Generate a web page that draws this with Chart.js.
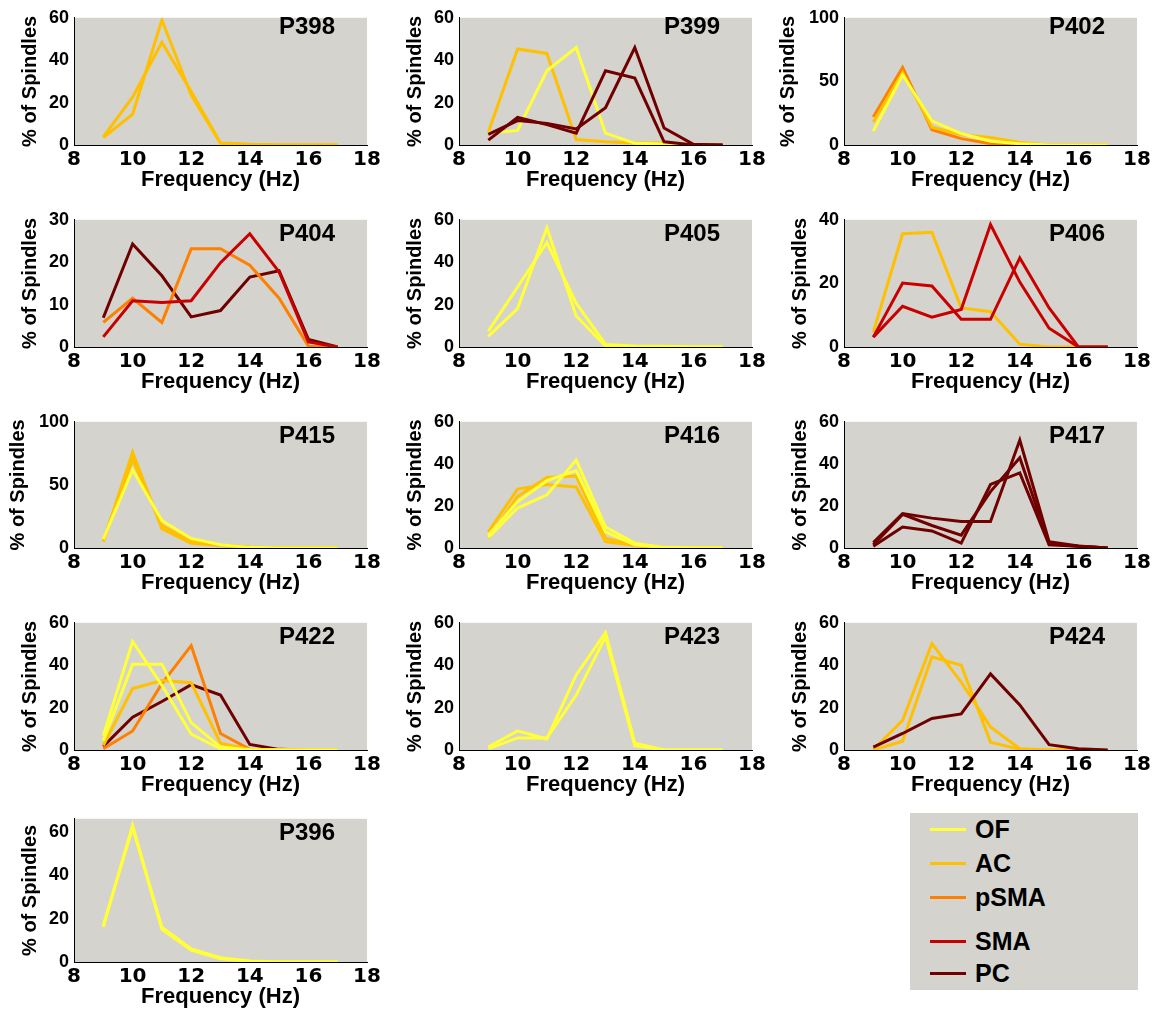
<!DOCTYPE html>
<html><head><meta charset="utf-8">
<script src="https://cdn.jsdelivr.net/npm/chart.js@4.4.0/dist/chart.umd.min.js"></script>
<style>
html,body{margin:0;padding:0;background:#fff;width:1156px;height:1014px;overflow:hidden;position:relative;}
.panel{position:absolute;}
.panel canvas{display:block;}
.plabel{position:absolute;font:bold 24px "Liberation Sans",Arial,sans-serif;color:#000;line-height:24px;white-space:nowrap;}
#legend{position:absolute;left:910px;top:813px;width:228px;height:177px;background:#d4d3cd;}
.li{position:absolute;left:20px;height:28px;width:200px;}
.li .sw{position:absolute;left:0;top:13px;width:36px;height:3px;}
.li .tx{position:absolute;left:45px;top:0;font:bold 25px "Liberation Sans",Arial,sans-serif;line-height:28px;color:#000;}
</style></head><body>
<div id="legend"></div>
<script>
// ---------------- DATA ----------------
const freqHz = [9, 10, 11, 12, 13, 14, 15, 16, 17];
const regions = ['OF', 'AC', 'pSMA', 'SMA', 'PC'];
const panelNames = ['P398','P399','P402','P404','P405','P406','P415','P416','P417','P422','P423','P424','P396'];
const yMaxByPanel = [60, 60, 100, 30, 60, 40, 100, 60, 60, 60, 60, 60, 66];
const yStepByPanel = [20, 20, 50, 10, 20, 20, 50, 20, 20, 20, 20, 20, 20];

const P398_AC_a = [3.8, 22.6, 48.4, 25.2, 1.0, 0.3, 0, 0, 0];
const P398_AC_b = [3.5, 14.5, 59.0, 23.5, 0.8, 0.2, 0, 0, 0];

const P399_OF   = [5.6, 6.9, 35.0, 46.0, 5.6, 0.8, 0.5, 0, 0];
const P399_AC   = [6.0, 45.3, 43.2, 2.6, 1.5, 1.0, 1.0, 0, 0];
const P399_PC_a = [2.3, 13.0, 9.6, 5.6, 35.0, 31.6, 1.5, 0, 0];
const P399_PC_b = [5.0, 11.5, 10.2, 7.6, 17.6, 46.0, 8.0, 0.3, 0];

const P402_pSMA = [22, 61, 12, 5, 1, 0, 0, 0, 0];
const P402_AC   = [18, 57, 14, 8, 6, 2, 0, 0, 0];
const P402_OF   = [11, 55, 19, 9, 3, 1, 0, 0, 0];

const P404_PC   = [6.9, 24.3, 16.8, 7.1, 8.6, 16.5, 18.0, 1.8, 0];
const P404_pSMA = [5.8, 11.5, 5.8, 23.2, 23.2, 19.3, 11.5, 0.2, 0];
const P404_SMA  = [2.4, 10.9, 10.5, 10.9, 19.9, 26.7, 17.7, 1.2, 0];

const P405_OF_a = [7.5, 28.3, 49.3, 20.7, 1.2, 0.5, 0.3, 0, 0];
const P405_OF_b = [5.0, 18.1, 56.2, 14.6, 0.5, 0.2, 0, 0, 0];

const P406_AC    = [4.7, 35.6, 36.1, 12.3, 11.1, 0.9, 0, 0, 0];
const P406_SMA_a = [3.1, 20.1, 19.2, 8.7, 8.7, 28.0, 12.3, 0, 0];
const P406_SMA_b = [3.1, 12.8, 9.4, 11.8, 38.5, 20.4, 5.9, 0, 0];

const P415_AC_a = [5, 75.8, 15.3, 3.8, 2, 0.5, 0, 0, 0];
const P415_AC_b = [6, 70, 18, 5, 2.2, 0.8, 0, 0, 0];
const P415_OF   = [7, 62, 21.7, 7.6, 2.6, 0.5, 0, 0, 0];

const P416_AC_a = [7.7, 28, 30.2, 29, 3, 1.2, 0.2, 0, 0];
const P416_AC_b = [4.6, 24.5, 33.5, 34.2, 4.6, 1.2, 0.2, 0, 0];
const P416_OF_a = [5, 19, 25.3, 41.8, 10, 2.3, 0.3, 0, 0];
const P416_OF_b = [6, 22, 32, 36.8, 7.7, 1.5, 0.2, 0, 0];

const P417_PC_a = [2.6, 16.4, 14.2, 12.6, 12.6, 51.3, 3, 1, 0];
const P417_PC_b = [0.8, 10, 8.1, 2.3, 30.2, 35.7, 1.5, 0.8, 0];
const P417_PC_c = [1.5, 16, 10.7, 6.1, 26.8, 42.9, 2, 0.8, 0];

const P422_PC   = [1.7, 15.5, 22.9, 30.8, 25.9, 2.6, 0.3, 0, 0];
const P422_pSMA = [0.6, 9, 31.3, 49.2, 7.8, 0.3, 0, 0, 0];
const P422_AC   = [2.1, 29, 32.8, 31.7, 3.2, 0.2, 0, 0, 0];
const P422_OF_a = [6.7, 51.2, 30.5, 7.5, 0.6, 0, 0, 0, 0];
const P422_OF_b = [4.4, 40.5, 40.5, 12.9, 1.4, 0, 0, 0, 0];

const P423_OF_a = [1.4, 9, 5.2, 35.4, 55.4, 3.2, 0, 0, 0];
const P423_OF_b = [0.6, 5.7, 5.7, 25.9, 53.5, 2.1, 0, 0, 0];

const P424_AC_a = [0.2, 14, 50.2, 32, 10.9, 0.6, 0, 0, 0];
const P424_AC_b = [0, 4.1, 44, 40, 3.7, 0.3, 0, 0, 0];
const P424_PC   = [1.4, 7.8, 14.9, 17, 35.9, 21.3, 2.5, 0.6, 0];

const P396_OF_a = [16.2, 63, 15, 5.5, 1.5, 0.3, 0, 0, 0];
const P396_OF_b = [17, 62, 16, 6, 2, 0.5, 0, 0, 0];

// panel -> [region, values] (drawing order: later on top)
const panelSeries = [
  [['AC', P398_AC_a], ['AC', P398_AC_b]],
  [['AC', P399_AC], ['OF', P399_OF], ['PC', P399_PC_a], ['PC', P399_PC_b]],
  [['pSMA', P402_pSMA], ['AC', P402_AC], ['OF', P402_OF]],
  [['PC', P404_PC], ['pSMA', P404_pSMA], ['SMA', P404_SMA]],
  [['OF', P405_OF_a], ['OF', P405_OF_b]],
  [['AC', P406_AC], ['SMA', P406_SMA_a], ['SMA', P406_SMA_b]],
  [['AC', P415_AC_a], ['AC', P415_AC_b], ['OF', P415_OF]],
  [['AC', P416_AC_a], ['AC', P416_AC_b], ['OF', P416_OF_a], ['OF', P416_OF_b]],
  [['PC', P417_PC_a], ['PC', P417_PC_b], ['PC', P417_PC_c]],
  [['PC', P422_PC], ['pSMA', P422_pSMA], ['AC', P422_AC], ['OF', P422_OF_a], ['OF', P422_OF_b]],
  [['OF', P423_OF_a], ['OF', P423_OF_b]],
  [['AC', P424_AC_a], ['AC', P424_AC_b], ['PC', P424_PC]],
  [['OF', P396_OF_a], ['OF', P396_OF_b]]
];

// ---------------- STYLE / LAYOUT ----------------
const regionColor = {OF: '#FFFF3A', AC: '#FFC000', pSMA: '#FF8000', SMA: '#C80000', PC: '#700000'};
const PLOT_BG = '#d4d3cd';
const colPlotLeft = [74, 459, 844];
const rowTop = [14, 216, 418, 619, 815];
const rowBottom = [145, 347, 548, 750, 962];
const PLOT_W = 293;
const PAD_T = 12, AX_W = 74, AX_H = 48, PAD_R = 18;

const bgPlugin = {
  id: 'plotbg',
  beforeDraw(chart) {
    const {ctx, chartArea: a} = chart;
    ctx.save();
    ctx.fillStyle = PLOT_BG;
    ctx.fillRect(a.left, a.top, a.right - a.left, a.bottom - a.top);
    ctx.restore();
  }
};

function makePanel(idx) {
  const col = idx % 3, row = Math.floor(idx / 3);
  const plotL = colPlotLeft[col], plotT = rowTop[row], plotB = rowBottom[row];
  const plotH = plotB - plotT;
  const w = AX_W + PLOT_W + PAD_R, h = PAD_T + plotH + AX_H;
  const div = document.createElement('div');
  div.className = 'panel';
  div.style.left = (plotL - AX_W) + 'px';
  div.style.top = (plotT - PAD_T) + 'px';
  div.style.width = w + 'px';
  div.style.height = h + 'px';
  const cv = document.createElement('canvas');
  cv.width = w; cv.height = h;
  cv.style.width = w + 'px'; cv.style.height = h + 'px';
  div.appendChild(cv);
  document.body.appendChild(div);

  const lab = document.createElement('div');
  lab.className = 'plabel';
  lab.textContent = panelNames[idx];
  lab.style.left = (plotL + 205) + 'px';
  lab.style.top = (plotT + (row === 0 ? 0 : 4.5)) + 'px';
  document.body.appendChild(lab);

  const series = panelSeries[idx];
  const yMax = yMaxByPanel[idx];
  const datasets = series.map((s, i) => ({
    label: s[0],
    data: freqHz.map((f, k) => ({x: f, y: s[1][k]})),
    borderColor: regionColor[s[0]],
    backgroundColor: regionColor[s[0]],
    borderWidth: 3,
    pointRadius: 0,
    tension: 0,
    fill: false,
    order: series.length - i
  }));

  new Chart(cv, {
    type: 'line',
    data: {datasets},
    plugins: [bgPlugin],
    options: {
      responsive: false,
      animation: false,
      devicePixelRatio: 1,
      events: [],
      layout: {padding: {top: PAD_T, right: PAD_R, left: 0, bottom: 0}},
      plugins: {legend: {display: false}, tooltip: {enabled: false}},
      scales: {
        x: {
          type: 'linear', min: 8, max: 18,
          ticks: {stepSize: 2, padding: 3, color: '#000', maxRotation: 0, autoSkip: false,
                  font: {family: 'DejaVu Sans', weight: 'bold', size: 20}},
          grid: {display: true, drawOnChartArea: false, drawTicks: false},
          border: {display: true, color: '#000', width: 1},
          title: {display: true, text: 'Frequency (Hz)', color: '#000', padding: {top: 0, bottom: 0},
                  font: {family: 'Liberation Sans', weight: 'bold', size: 22}},
          afterFit(s) { s.height = AX_H; }
        },
        y: {
          type: 'linear', min: 0, max: yMax,
          ticks: {stepSize: yStepByPanel[idx], includeBounds: false, padding: 5, color: '#000',
                  font: {family: 'Liberation Sans', weight: 'bold', size: 18}},
          grid: {display: true, drawOnChartArea: false, drawTicks: false},
          border: {display: true, color: '#000', width: 1},
          title: {display: true, text: '% of Spindles', color: '#000',
                  padding: {top: yMax >= 100 ? 6.5 : 18, bottom: 0},
                  font: {family: 'Liberation Sans', weight: 'bold', size: 20}},
          afterFit(s) { s.width = AX_W; }
        }
      }
    }
  });
}

for (let i = 0; i < panelNames.length; i++) makePanel(i);

// legend
const legendY = [2, 36, 70, 114, 146];
const leg = document.getElementById('legend');
regions.forEach((r, i) => {
  const it = document.createElement('div');
  it.className = 'li';
  it.style.top = legendY[i] + 'px';
  const sw = document.createElement('span');
  sw.className = 'sw';
  sw.style.background = regionColor[r];
  const tx = document.createElement('span');
  tx.className = 'tx';
  tx.textContent = r;
  it.appendChild(sw); it.appendChild(tx);
  leg.appendChild(it);
});
</script>
</body></html>
